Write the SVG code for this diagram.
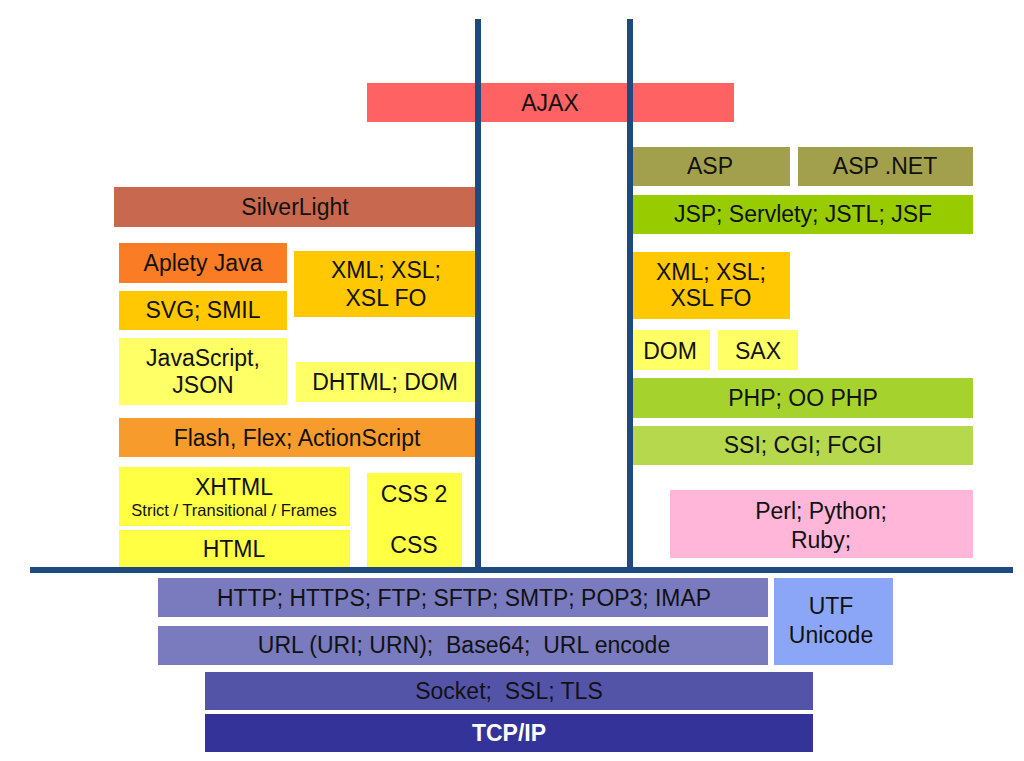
<svg xmlns="http://www.w3.org/2000/svg" width="1024" height="761" viewBox="0 0 1024 761">
<style>
text{font-family:"Liberation Sans",Arial,sans-serif;font-size:23px;fill:#111;text-anchor:middle;dominant-baseline:central}
.w{fill:#fff;font-weight:bold}
.s{font-size:16.5px}
.ln{stroke:#1F4A80;stroke-width:6;fill:none}
</style>
<rect width="1024" height="761" fill="#fff"/>
<g id="ajax"><rect x="367" y="83" width="367" height="39" fill="#FF6262"/><text x="550" y="103">AJAX</text></g>
<g id="silverlight"><rect x="114" y="187" width="361" height="40" fill="#C8684E"/><text x="295" y="207">SilverLight</text></g>
<g id="aplety"><rect x="119" y="243" width="168" height="40" fill="#FA7D25"/><text x="203" y="263">Aplety Java</text></g>
<g id="svg"><rect x="119" y="291" width="168" height="39" fill="#FFC800"/><text x="203" y="310">SVG; SMIL</text></g>
<g id="xml-left"><rect x="294" y="251" width="181" height="66" fill="#FFC800"/><text x="386" y="270">XML; XSL;</text><text x="386" y="298">XSL FO</text></g>
<g id="javascript"><rect x="119" y="338" width="168" height="67" fill="#FFFF66"/><text x="203" y="358">JavaScript,</text><text x="203" y="385">JSON</text></g>
<g id="dhtml"><rect x="296" y="362" width="179" height="40" fill="#FFFF66"/><text x="385" y="382">DHTML; DOM</text></g>
<g id="flash"><rect x="119" y="418" width="356" height="39" fill="#F79C2C"/><text x="297" y="438">Flash, Flex; ActionScript</text></g>
<g id="xhtml"><rect x="119" y="467" width="231" height="59" fill="#FFFF44"/><text x="234" y="487">XHTML</text><text class="s" x="234" y="510">Strict / Transitional / Frames</text></g>
<g id="html"><rect x="119" y="530" width="231" height="37" fill="#FFFF44"/><text x="234" y="549">HTML</text></g>
<g id="css"><rect x="367" y="473" width="95" height="94" fill="#FFFF44"/><text x="414" y="494">CSS 2</text><text x="414" y="545">CSS</text></g>
<g id="asp"><rect x="633" y="147" width="157" height="39" fill="#A3A04D"/><text x="710" y="166">ASP</text></g>
<g id="aspnet"><rect x="798" y="147" width="175" height="39" fill="#A3A04D"/><text x="885" y="166">ASP .NET</text></g>
<g id="jsp"><rect x="633" y="195" width="340" height="39" fill="#99CC00"/><text x="803" y="214">JSP; Servlety; JSTL; JSF</text></g>
<g id="xml-right"><rect x="633" y="252" width="157" height="67" fill="#FFC800"/><text x="711" y="272">XML; XSL;</text><text x="711" y="298">XSL FO</text></g>
<g id="dom"><rect x="633" y="330" width="77" height="40" fill="#FFFF66"/><text x="670" y="351">DOM</text></g>
<g id="sax"><rect x="718" y="330" width="80" height="40" fill="#FFFF66"/><text x="758" y="351">SAX</text></g>
<g id="php"><rect x="633" y="378" width="340" height="40" fill="#A5D22C"/><text x="803" y="398">PHP; OO PHP</text></g>
<g id="ssi"><rect x="633" y="426" width="340" height="39" fill="#B5D84D"/><text x="803" y="445">SSI; CGI; FCGI</text></g>
<g id="perl"><rect x="670" y="490" width="303" height="68" fill="#FFB6D9"/><text x="821" y="511">Perl; Python;</text><text x="821" y="540">Ruby;</text></g>
<g id="http"><rect x="158" y="578" width="610" height="39" fill="#7A7ABE"/><text x="464" y="598" textLength="494" lengthAdjust="spacingAndGlyphs">HTTP; HTTPS; FTP; SFTP; SMTP; POP3; IMAP</text></g>
<g id="url"><rect x="158" y="626" width="610" height="39" fill="#7A7ABE"/><text x="464" y="645" xml:space="preserve">URL (URI; URN);  Base64;  URL encode</text></g>
<g id="utf"><rect x="774" y="578" width="119" height="87" fill="#8CA6F7"/><text x="831" y="606">UTF</text><text x="831" y="635">Unicode</text></g>
<g id="socket"><rect x="205" y="672" width="608" height="38" fill="#5354A8"/><text x="509" y="691" xml:space="preserve">Socket;  SSL; TLS</text></g>
<g id="tcpip"><rect x="205" y="714" width="608" height="38" fill="#333399"/><text class="w" x="509" y="733">TCP/IP</text></g>
<g id="connectors">
<line class="ln" x1="478" y1="19" x2="478" y2="570"/>
<line class="ln" x1="630" y1="19" x2="630" y2="570"/>
<line class="ln" x1="30" y1="570" x2="1013" y2="570"/>
</g>
</svg>
